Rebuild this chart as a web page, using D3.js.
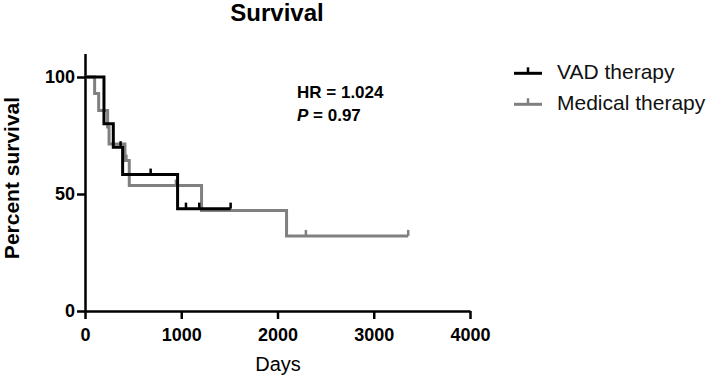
<!DOCTYPE html>
<html>
<head>
<meta charset="utf-8">
<script src="https://cdn.jsdelivr.net/npm/d3@7"></script>
<style>
  body { margin: 0; background: #fff; }
  svg { display: block; }
  text { font-family: "Liberation Sans", Arial, sans-serif; }
</style>
</head>
<body>
<svg id="chart" width="709" height="378"></svg>
<script>
// ---- data ----
const title = "Survival";
const xLabel = "Days";
const yLabel = "Percent survival";
const seriesNames = ["VAD therapy", "Medical therapy"];
const seriesColors = ["#000000", "#808080"];

const xTicks = [0, 1000, 2000, 3000, 4000];
const yTicks = [0, 50, 100];

// VAD therapy: step times and survival (%) after each step
const vadTimes = [0, 197, 294, 391, 962, 1513];
const vadSurv  = [100, 80, 70, 58.3, 43.75, 43.75];
const vadCensorTimes = [370, 682, 1049, 1187, 1513];
const vadCensorSurv  = [70, 58.3, 43.75, 43.75, 43.75];

// Medical therapy
const medTimes = [0, 100, 142, 235, 250, 415, 460, 1211, 2094, 3358];
const medSurv  = [100, 92.9, 85.7, 78.6, 71.4, 64.3, 53.6, 42.9, 32.1, 32.1];
const medCensorTimes = [430, 945, 2295, 3358];
const medCensorSurv  = [64.3, 53.6, 32.1, 32.1];

const statLines = ["HR = 1.024", "0.97"];

// ---- drawing ----
const svg = d3.select("#chart");
const x = d3.scaleLinear().domain([0, 4000]).range([85, 470]);
const y = d3.scaleLinear().domain([0, 110]).range([311, 53.6]);

// title
svg.append("text").attr("x", 277).attr("y", 21)
  .attr("text-anchor", "middle").attr("font-size", 24).attr("font-weight", "bold")
  .text(title);

// axes
const xAxis = svg.append("g").attr("transform", `translate(0,${y(0)})`)
  .call(d3.axisBottom(x).tickValues(xTicks).tickFormat(d3.format("d"))
    .tickSize(8).tickSizeOuter(0).tickPadding(9));
const yAxis = svg.append("g").attr("transform", `translate(${x(0)},0)`)
  .call(d3.axisLeft(y).tickValues(yTicks).tickSize(8).tickSizeOuter(0).tickPadding(2));

[xAxis, yAxis].forEach(g => {
  g.select(".domain").attr("stroke", "#000").attr("stroke-width", 2.5);
  g.selectAll(".tick line").attr("stroke", "#000").attr("stroke-width", 2.5);
  g.selectAll(".tick text").attr("fill", "#000").attr("font-size", 18)
    .attr("font-weight", "bold").attr("font-family", "'Liberation Sans', Arial, sans-serif");
});

// axis titles
svg.append("text").attr("x", 278).attr("y", 370.5)
  .attr("text-anchor", "middle").attr("font-size", 20).text(xLabel);
svg.append("text").attr("transform", "translate(19,178) rotate(-90)")
  .attr("text-anchor", "middle").attr("font-size", 21).attr("font-weight", "bold")
  .text(yLabel);

// step curves
function stepPoints(times, surv) {
  return times.map((t, i) => [t, surv[i]]);
}
const line = d3.line().x(d => x(d[0])).y(d => y(d[1])).curve(d3.curveStepAfter);

const series = [
  { pts: stepPoints(medTimes, medSurv), ct: medCensorTimes, cs: medCensorSurv, color: seriesColors[1] },
  { pts: stepPoints(vadTimes, vadSurv), ct: vadCensorTimes, cs: vadCensorSurv, color: seriesColors[0] }
];

series.forEach(s => {
  svg.append("path").datum(s.pts).attr("d", line)
    .attr("fill", "none").attr("stroke", s.color).attr("stroke-width", 3)
    .attr("stroke-linejoin", "miter");
  svg.append("g").selectAll("line").data(s.ct.map((t, i) => [t, s.cs[i]])).join("line")
    .attr("x1", d => x(d[0])).attr("x2", d => x(d[0]))
    .attr("y1", d => y(d[1])).attr("y2", d => y(d[1]) - 6)
    .attr("stroke", s.color).attr("stroke-width", 2.5);
});

// stats text
const st = svg.append("g").attr("font-size", 17).attr("font-weight", "bold");
st.append("text").attr("x", 297).attr("y", 98).text(statLines[0]);
const p = st.append("text").attr("x", 297).attr("y", 121);
p.append("tspan").attr("font-style", "italic").text("P");
p.append("tspan").text(" = " + statLines[1]);

// legend
const leg = svg.append("g");
seriesNames.forEach((name, i) => {
  const ly = 73.3 + i * 31;
  leg.append("line").attr("x1", 514).attr("x2", 542).attr("y1", ly).attr("y2", ly)
    .attr("stroke", seriesColors[i]).attr("stroke-width", 3);
  leg.append("line").attr("x1", 528).attr("x2", 528).attr("y1", ly).attr("y2", ly - 6)
    .attr("stroke", seriesColors[i]).attr("stroke-width", 2.5);
  leg.append("text").attr("x", 557).attr("y", ly + 5.5).attr("font-size", 21)
    .attr("fill", "#111").text(name);
});
</script>
</body>
</html>
